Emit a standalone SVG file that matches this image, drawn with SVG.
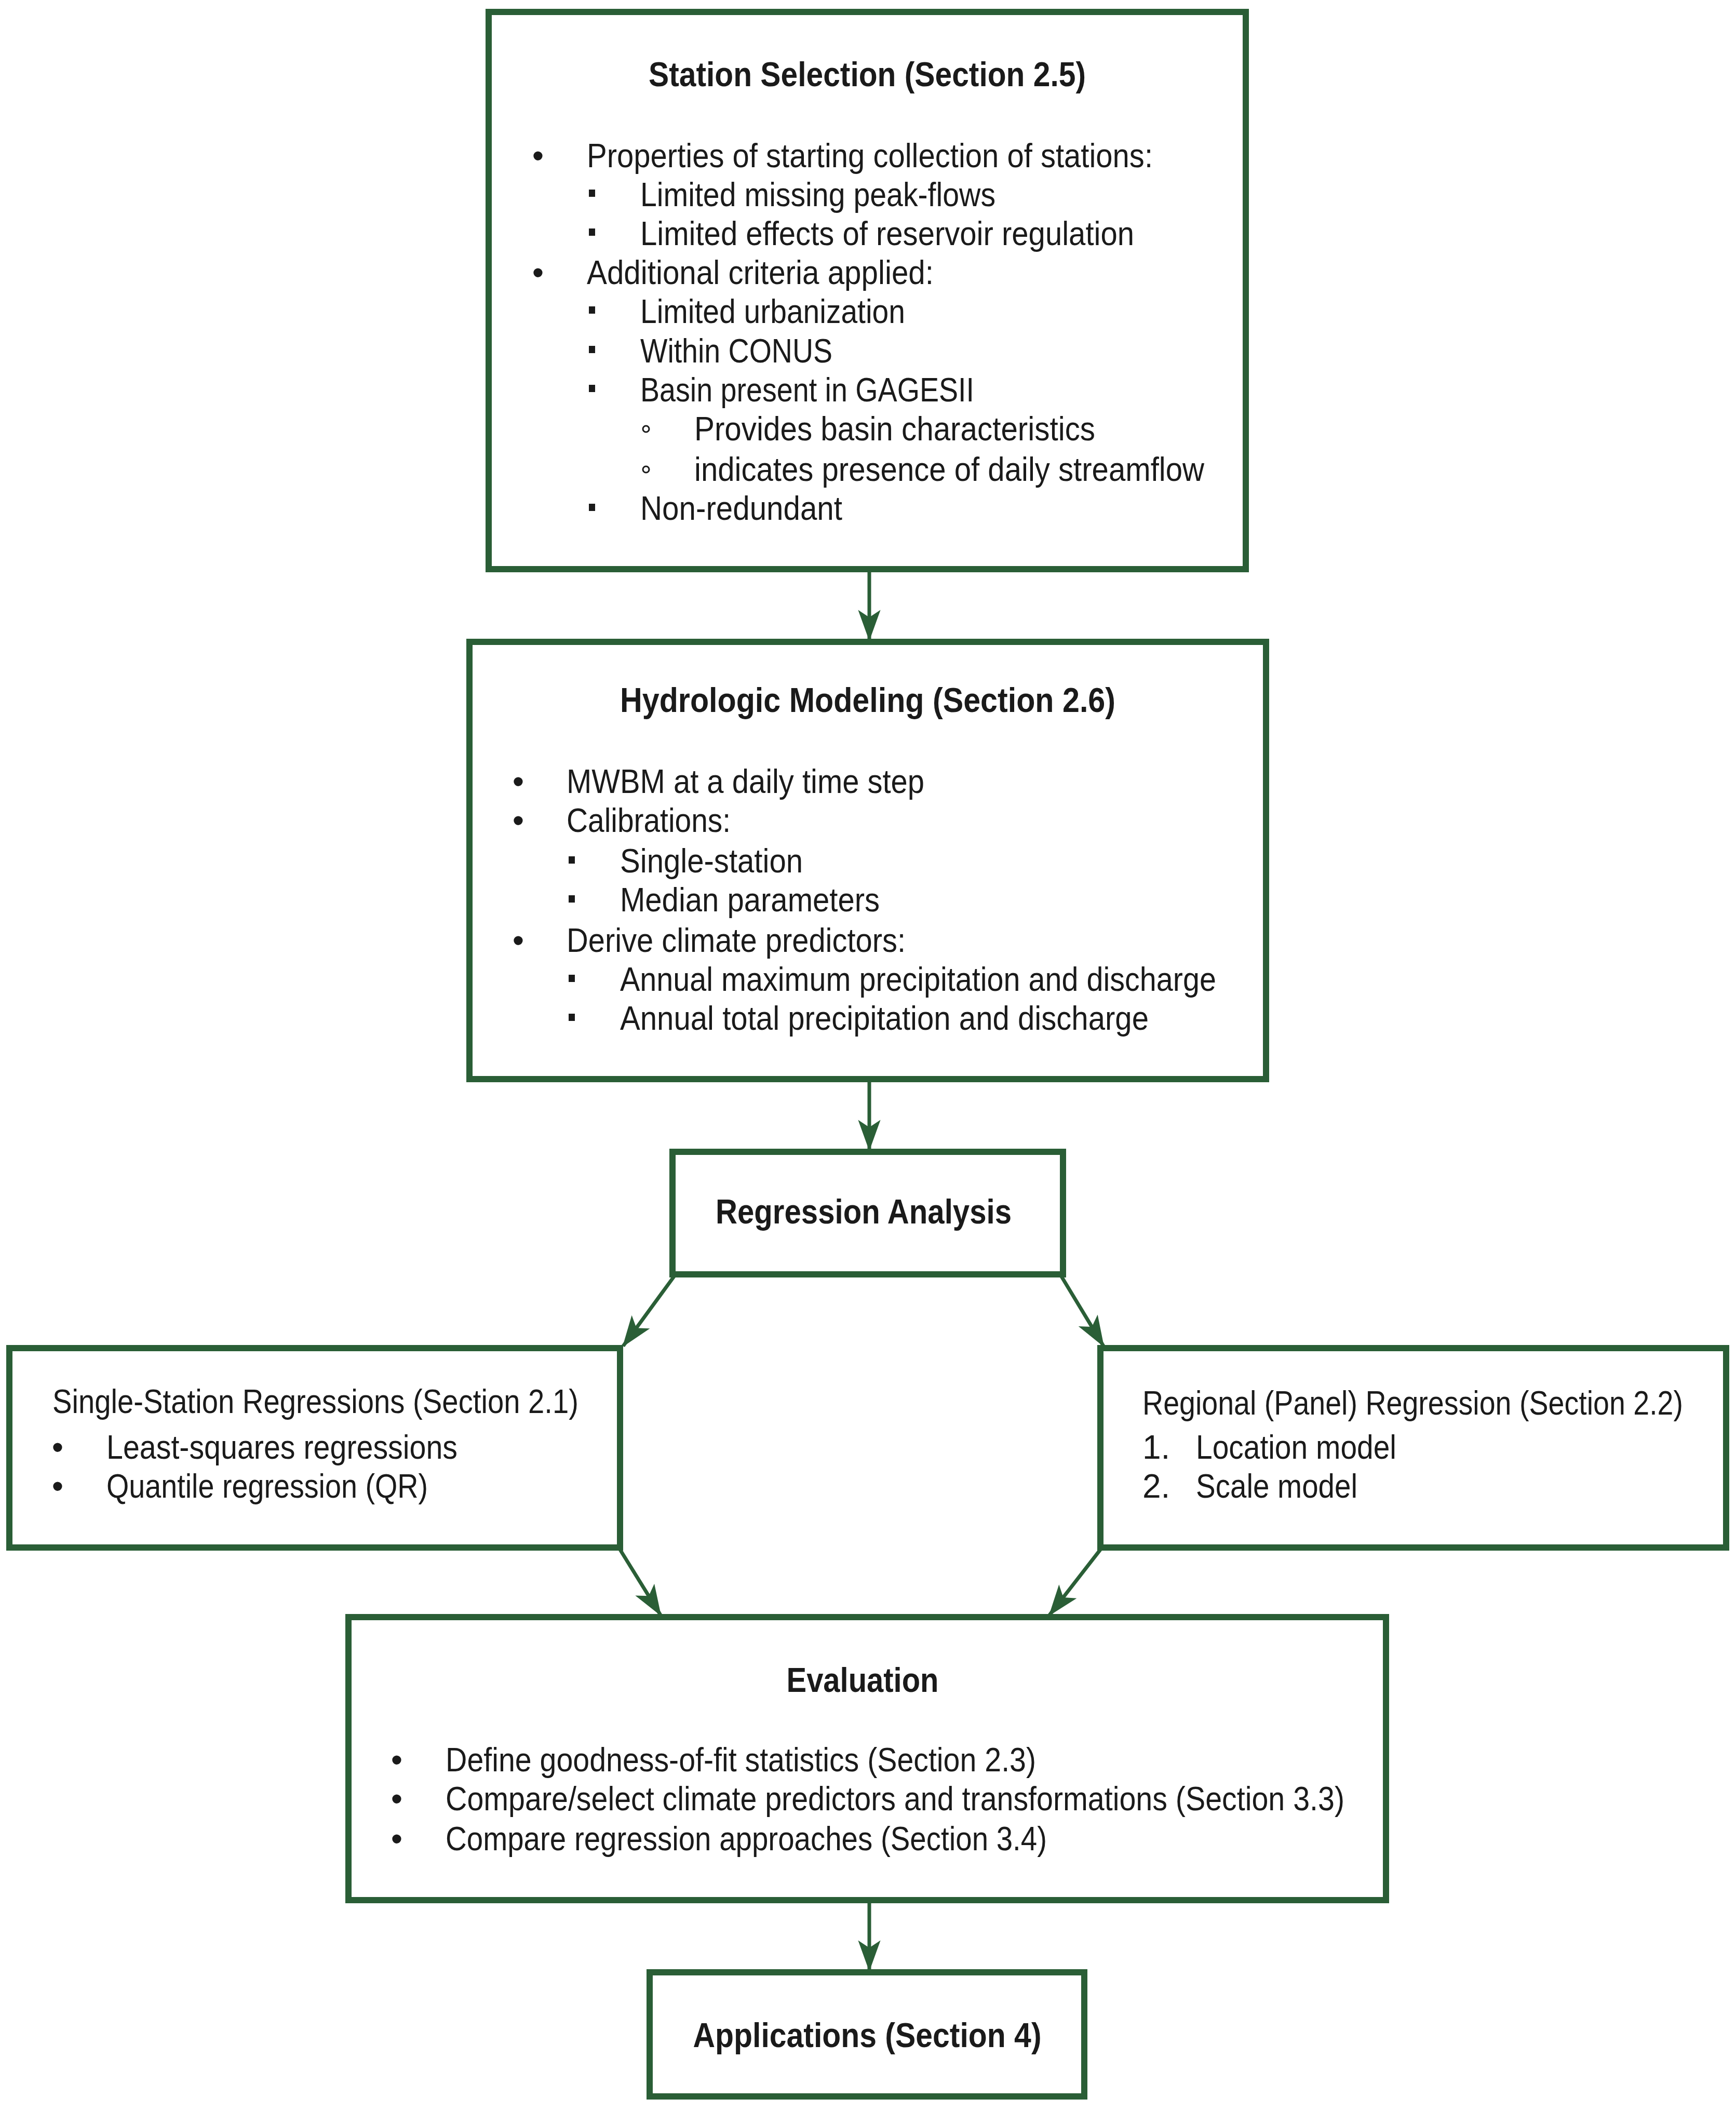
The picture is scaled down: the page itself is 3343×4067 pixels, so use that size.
<svg xmlns="http://www.w3.org/2000/svg" width="3343" height="4067" viewBox="0 0 3343 4067">
<style>
.box{fill:#fff;stroke:#2a5e36;stroke-width:12}
.t{font-family:"Liberation Sans Narrow","Liberation Sans",Arial,sans-serif;font-size:64px;fill:#1a1a1a}
.b{font-weight:bold;font-size:66px}
.c{stroke:#2a5e36;stroke-width:7;fill:none}
</style>
<defs>
<marker id="ah" markerUnits="userSpaceOnUse" markerWidth="60" markerHeight="60" viewBox="0 0 50 40" refX="48" refY="20" orient="auto">
<path d="M0,2 L50,20 L0,38 L12,20 Z" fill="#2a5e36"/>
</marker>
</defs>
<rect width="3343" height="4067" fill="#fff"/>
<g id="connectors">
<line class="c" x1="1674" y1="1102" x2="1674" y2="1232" marker-end="url(#ah)"/>
<line class="c" x1="1674" y1="2084" x2="1674" y2="2214" marker-end="url(#ah)"/>
<line class="c" x1="1298" y1="2458" x2="1200" y2="2592" marker-end="url(#ah)"/>
<line class="c" x1="2044" y1="2458" x2="2125" y2="2592" marker-end="url(#ah)"/>
<line class="c" x1="1194" y1="2984" x2="1272" y2="3110" marker-end="url(#ah)"/>
<line class="c" x1="2119" y1="2984" x2="2021" y2="3110" marker-end="url(#ah)"/>
<line class="c" x1="1674" y1="3665" x2="1674" y2="3794" marker-end="url(#ah)"/>
</g>
<g id="station">
<rect class="box" x="941" y="23" width="1458" height="1073"/>
<text class="t b" x="1670" y="166" text-anchor="middle" textLength="842" lengthAdjust="spacingAndGlyphs">Station Selection (Section 2.5)</text>
<text class="t" x="1036" y="322" text-anchor="middle">•</text>
<text class="t" x="1130" y="322" textLength="1090" lengthAdjust="spacingAndGlyphs">Properties of starting collection of stations:</text>
<rect x="1134" y="365" width="12" height="14" fill="#1a1a1a"/>
<text class="t" x="1233" y="397" textLength="684" lengthAdjust="spacingAndGlyphs">Limited missing peak-flows</text>
<rect x="1134" y="440" width="12" height="14" fill="#1a1a1a"/>
<text class="t" x="1233" y="472" textLength="951" lengthAdjust="spacingAndGlyphs">Limited effects of reservoir regulation</text>
<text class="t" x="1036" y="547" text-anchor="middle">•</text>
<text class="t" x="1130" y="547" textLength="668" lengthAdjust="spacingAndGlyphs">Additional criteria applied:</text>
<rect x="1134" y="590" width="12" height="14" fill="#1a1a1a"/>
<text class="t" x="1233" y="622" textLength="510" lengthAdjust="spacingAndGlyphs">Limited urbanization</text>
<rect x="1134" y="666" width="12" height="14" fill="#1a1a1a"/>
<text class="t" x="1233" y="698" textLength="370" lengthAdjust="spacingAndGlyphs">Within CONUS</text>
<rect x="1134" y="741" width="12" height="14" fill="#1a1a1a"/>
<text class="t" x="1233" y="773" textLength="643" lengthAdjust="spacingAndGlyphs">Basin present in GAGESII</text>
<circle cx="1244" cy="826" r="6" fill="none" stroke="#1a1a1a" stroke-width="3"/>
<text class="t" x="1337" y="848" textLength="772" lengthAdjust="spacingAndGlyphs">Provides basin characteristics</text>
<circle cx="1244" cy="904" r="6" fill="none" stroke="#1a1a1a" stroke-width="3"/>
<text class="t" x="1337" y="926" textLength="982" lengthAdjust="spacingAndGlyphs">indicates presence of daily streamflow</text>
<rect x="1134" y="970" width="12" height="14" fill="#1a1a1a"/>
<text class="t" x="1233" y="1001" textLength="389" lengthAdjust="spacingAndGlyphs">Non-redundant</text>
</g>
<g id="hydro">
<rect class="box" x="904" y="1236" width="1534" height="842"/>
<text class="t b" x="1671" y="1371" text-anchor="middle" textLength="954" lengthAdjust="spacingAndGlyphs">Hydrologic Modeling (Section 2.6)</text>
<text class="t" x="998" y="1527" text-anchor="middle">•</text>
<text class="t" x="1091" y="1527" textLength="689" lengthAdjust="spacingAndGlyphs">MWBM at a daily time step</text>
<text class="t" x="998" y="1602" text-anchor="middle">•</text>
<text class="t" x="1091" y="1602" textLength="316" lengthAdjust="spacingAndGlyphs">Calibrations:</text>
<rect x="1095" y="1649" width="12" height="14" fill="#1a1a1a"/>
<text class="t" x="1194" y="1680" textLength="352" lengthAdjust="spacingAndGlyphs">Single-station</text>
<rect x="1095" y="1724" width="12" height="14" fill="#1a1a1a"/>
<text class="t" x="1194" y="1755" textLength="500" lengthAdjust="spacingAndGlyphs">Median parameters</text>
<text class="t" x="998" y="1833" text-anchor="middle">•</text>
<text class="t" x="1091" y="1833" textLength="653" lengthAdjust="spacingAndGlyphs">Derive climate predictors:</text>
<rect x="1095" y="1877" width="12" height="14" fill="#1a1a1a"/>
<text class="t" x="1194" y="1908" textLength="1148" lengthAdjust="spacingAndGlyphs">Annual maximum precipitation and discharge</text>
<rect x="1095" y="1952" width="12" height="14" fill="#1a1a1a"/>
<text class="t" x="1194" y="1983" textLength="1018" lengthAdjust="spacingAndGlyphs">Annual total precipitation and discharge</text>
</g>
<g id="regression">
<rect class="box" x="1295" y="2218" width="752" height="236"/>
<text class="t b" x="1663" y="2356" text-anchor="middle" textLength="570" lengthAdjust="spacingAndGlyphs">Regression Analysis</text>
</g>
<g id="single">
<rect class="box" x="18" y="2596" width="1176" height="384"/>
<text class="t" x="101" y="2721" textLength="1013" lengthAdjust="spacingAndGlyphs" font-weight="500">Single-Station Regressions (Section 2.1)</text>
<text class="t" x="111" y="2809" text-anchor="middle">•</text>
<text class="t" x="205" y="2809" textLength="676" lengthAdjust="spacingAndGlyphs">Least-squares regressions</text>
<text class="t" x="111" y="2884" text-anchor="middle">•</text>
<text class="t" x="205" y="2884" textLength="619" lengthAdjust="spacingAndGlyphs">Quantile regression (QR)</text>
</g>
<g id="regional">
<rect class="box" x="2119" y="2596" width="1205" height="384"/>
<text class="t" x="2200" y="2724" textLength="1041" lengthAdjust="spacingAndGlyphs" font-weight="500">Regional (Panel) Regression (Section 2.2)</text>
<text class="t" x="2200" y="2809">1.</text>
<text class="t" x="2303" y="2809" textLength="386" lengthAdjust="spacingAndGlyphs">Location model</text>
<text class="t" x="2200" y="2884">2.</text>
<text class="t" x="2303" y="2884" textLength="311" lengthAdjust="spacingAndGlyphs">Scale model</text>
</g>
<g id="evaluation">
<rect class="box" x="671" y="3114" width="1998" height="545"/>
<text class="t b" x="1661" y="3258" text-anchor="middle" textLength="293" lengthAdjust="spacingAndGlyphs">Evaluation</text>
<text class="t" x="764" y="3411" text-anchor="middle">•</text>
<text class="t" x="858" y="3411" textLength="1137" lengthAdjust="spacingAndGlyphs">Define goodness-of-fit statistics (Section 2.3)</text>
<text class="t" x="764" y="3486" text-anchor="middle">•</text>
<text class="t" x="858" y="3486" textLength="1731" lengthAdjust="spacingAndGlyphs">Compare/select climate predictors and transformations (Section 3.3)</text>
<text class="t" x="764" y="3563" text-anchor="middle">•</text>
<text class="t" x="858" y="3563" textLength="1158" lengthAdjust="spacingAndGlyphs">Compare regression approaches (Section 3.4)</text>
</g>
<g id="applications">
<rect class="box" x="1251" y="3798" width="837" height="239"/>
<text class="t b" x="1670" y="3942" text-anchor="middle" textLength="671" lengthAdjust="spacingAndGlyphs">Applications (Section 4)</text>
</g>
</svg>
